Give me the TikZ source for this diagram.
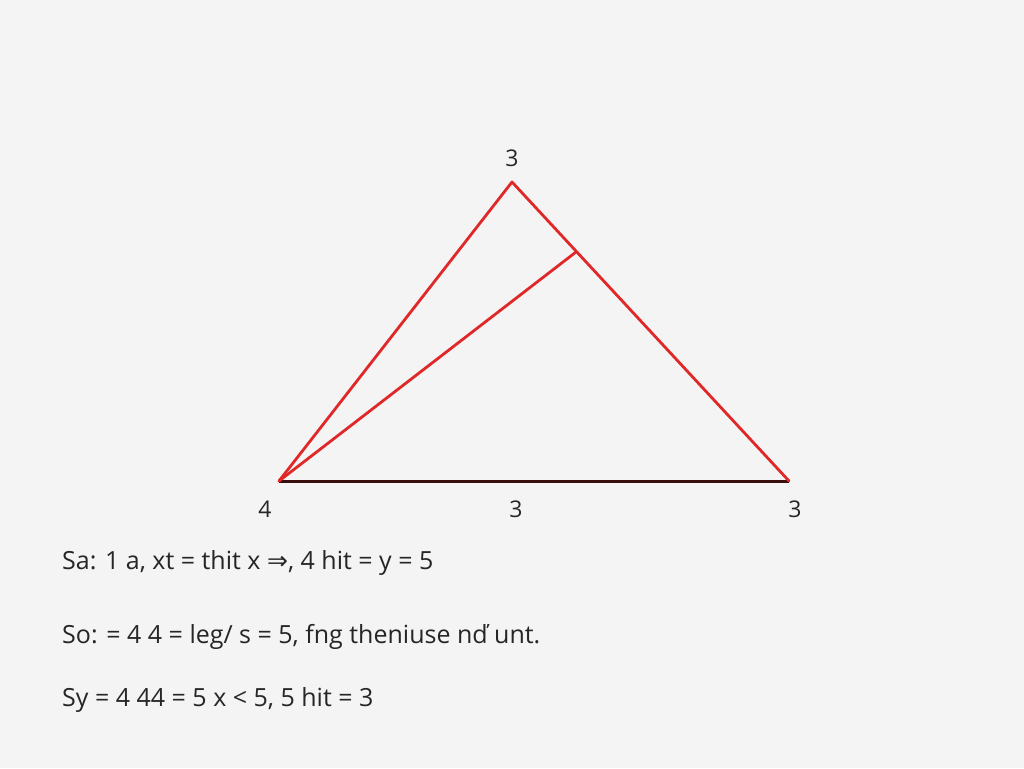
\documentclass[tikz,border=0pt]{standalone}
\usepackage{fontspec}
\setmainfont{Open Sans}
\newfontfamily\symfont{DejaVu Sans}
\definecolor{bg}{HTML}{F4F4F4}
\definecolor{redline}{HTML}{E02828}
\definecolor{darkbase}{HTML}{3A0E0E}
\begin{document}
\begin{tikzpicture}[x=1pt,y=-1pt,
  side/.style={draw=redline,line width=2.8pt,line cap=round,line join=round},
  baseline/.style={draw=darkbase,line width=3pt},
  vlabel/.style={font=\fontsize{23}{27}\selectfont,text=black!85,inner sep=0pt},
  txt/.style={font=\fontsize{25}{30}\selectfont,text=black!85,anchor=west,inner sep=0pt}]
\fill[bg] (0,0) rectangle (1024,768);
\useasboundingbox (0,0) rectangle (1024,768);
\coordinate (A) at (279,481);
\coordinate (B) at (512,182);
\coordinate (C) at (789,481);
\coordinate (D) at (576,252);
\draw[baseline] (A) -- (C);
\draw[side] (A) -- (B) -- (C);
\draw[side] (A) -- (D);
\node[vlabel] (lb) at (512,158) {3};
\node[vlabel] (la) at (265,509) {4};
\node[vlabel] (lm) at (516,509) {3};
\node[vlabel] (lc) at (795,509) {3};
\node[txt] (t1) at (62,563) {Sa: 1 a, xt = thit x {\symfont ⇒}, 4 hit = y = 5};
\node[txt] (t2) at (62,637) {So: = 4 4 = leg/ s = 5, fng theniuse nď unt.};
\node[txt] (t3) at (62,700) {Sy = 4 44 = 5 x < 5, 5 hit = 3};
\end{tikzpicture}
\end{document}
